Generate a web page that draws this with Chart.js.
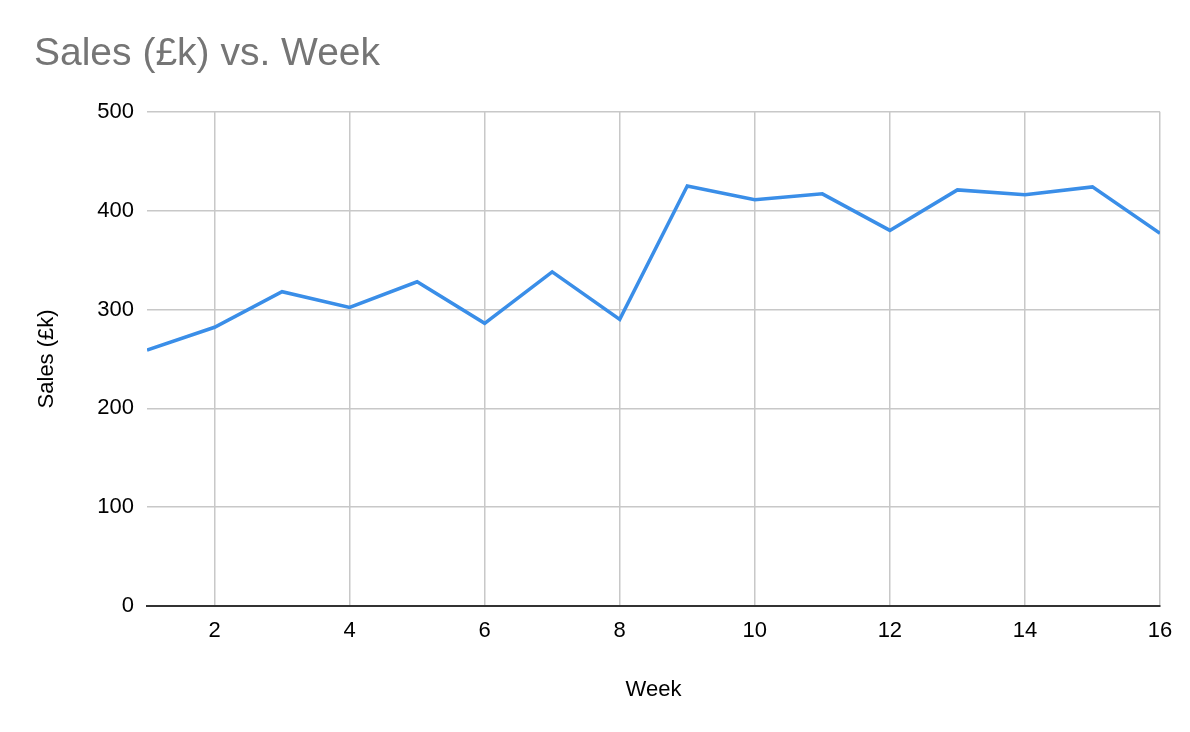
<!DOCTYPE html>
<html>
<head>
<meta charset="utf-8">
<title>Sales (£k) vs. Week</title>
<script src="https://cdn.jsdelivr.net/npm/chart.js@4/dist/chart.umd.min.js"></script>
<style>
  html, body { margin: 0; padding: 0; background: #fff; }
  #chart { display: block; }
</style>
</head>
<body>
<canvas id="chart" width="1190" height="732"></canvas>
<script>
// data
const weeks = [1, 2, 3, 4, 5, 6, 7, 8, 9, 10, 11, 12, 13, 14, 15, 16];
const sales = [259, 282, 318, 302, 328, 286, 338, 290, 425, 411, 417, 380, 421, 416, 424, 377];
const xTicks = [2, 4, 6, 8, 10, 12, 14, 16];
const yTicks = [0, 100, 200, 300, 400, 500];

const FONT = "'Liberation Sans', Arial, sans-serif";

const points = weeks.map((w, i) => ({ x: w, y: sales[i] }));

new Chart(document.getElementById('chart'), {
  type: 'line',
  data: {
    datasets: [{
      label: 'Sales (£k)',
      data: points,
      borderColor: '#3a8ee8',
      backgroundColor: 'transparent',
      borderWidth: 3.5,
      pointRadius: 0,
      tension: 0,
    }],
  },
  options: {
    responsive: false,
    animation: false,
    layout: { padding: { left: 34, right: 30, top: 0, bottom: 25 } },
    plugins: {
      legend: { display: false },
      tooltip: { enabled: false },
      title: {
        display: true,
        text: 'Sales (£k) vs. Week',
        align: 'start',
        color: '#757575',
        font: { family: FONT, size: 39, weight: 'normal' },
        padding: { top: 31, bottom: 34 },
      },
    },
    scales: {
      x: {
        type: 'linear',
        min: 1,
        max: 16,
        afterBuildTicks: scale => { scale.ticks = xTicks.map(v => ({ value: v })); },
        afterFit: scale => { scale.height = 101; },
        grid: { color: '#c8c8c8', lineWidth: 1.5, drawTicks: false },
        border: { display: true, color: '#333333', width: 2 },
        ticks: {
          color: '#000000',
          padding: 12,
          maxRotation: 0,
          font: { family: FONT, size: 22 },
        },
        title: {
          display: true,
          text: 'Week',
          color: '#000000',
          font: { family: FONT, size: 22 },
          padding: { top: 4, bottom: 4 },
        },
      },
      y: {
        min: 0,
        max: 500,
        afterBuildTicks: scale => { scale.ticks = yTicks.map(v => ({ value: v })); },
        afterFit: scale => { scale.width = 113; },
        grid: { color: '#c8c8c8', lineWidth: 1.5, drawTicks: false },
        border: { display: false },
        ticks: {
          color: '#000000',
          padding: 13,
          font: { family: FONT, size: 22 },
        },
        title: {
          display: true,
          text: 'Sales (£k)',
          color: '#000000',
          font: { family: FONT, size: 22 },
          padding: { top: 0, bottom: 0 },
        },
      },
    },
  },
});
</script>
</body>
</html>
